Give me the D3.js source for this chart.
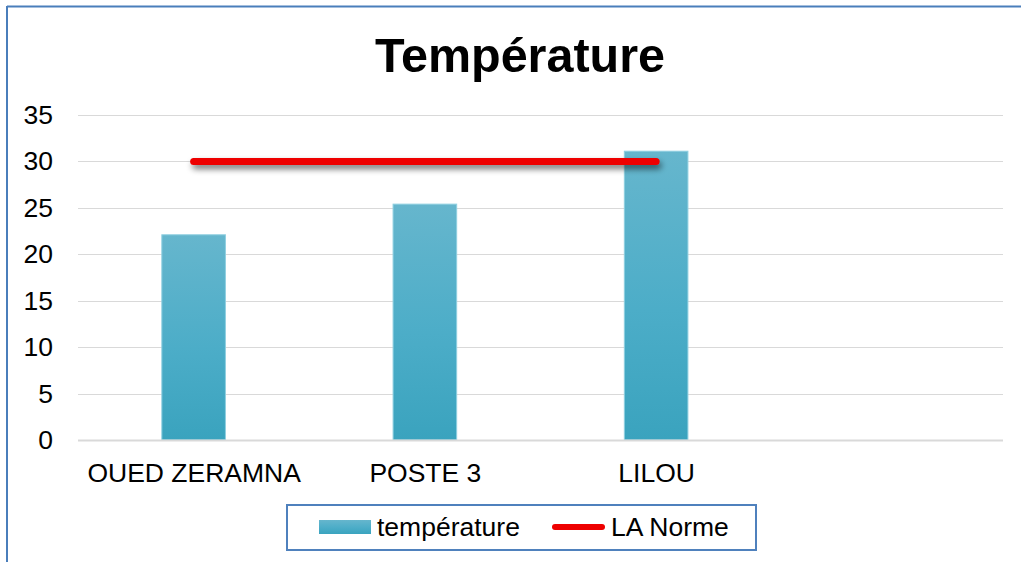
<!DOCTYPE html>
<html>
<head>
<meta charset="utf-8">
<script src="https://cdn.jsdelivr.net/npm/d3@7"></script>
<style>
  html, body { margin: 0; padding: 0; background: #fff; }
  svg { display: block; font-family: "Liberation Sans", Arial, sans-serif; }
</style>
</head>
<body>
<svg id="chart" width="1021" height="562"></svg>
<script>
// Stations and measured temperatures
const categories = ["OUED ZERAMNA", "POSTE 3", "LILOU", ""];
const temperature = [22.1, 25.4, 31.1];
// Reference limit drawn across the measured stations
const norme = [30, 30, 30];
const yTicks = [0, 5, 10, 15, 20, 25, 30, 35];
const seriesNames = ["température", "LA Norme"];

const svg = d3.select("#chart");
const W = 1021, H = 562;
const margin = { left: 78, right: 18, top: 115, bottom: 122 };
const FONT = "Liberation Sans, Arial, sans-serif";
const LABEL_SIZE = 26.5;

const x = d3.scaleBand()
  .domain(d3.range(categories.length))
  .range([margin.left, W - margin.right])
  .paddingInner(0.725)
  .paddingOuter(0.3625);
const xc = d3.scalePoint()
  .domain(d3.range(categories.length))
  .range([margin.left, W - margin.right])
  .padding(0.5);
const y = d3.scaleLinear().domain([0, 35]).range([H - margin.bottom, margin.top]);

const defs = svg.append("defs");
const grad = defs.append("linearGradient")
  .attr("id", "barGrad").attr("x1", 0).attr("y1", 0).attr("x2", 0).attr("y2", 1);
grad.append("stop").attr("offset", "0%").attr("stop-color", "#66b6cd");
grad.append("stop").attr("offset", "55%").attr("stop-color", "#4cadc8");
grad.append("stop").attr("offset", "100%").attr("stop-color", "#3aa3be");

// Soft drop shadow under the limit line (user-space region: the path is flat)
const shadow = defs.append("filter").attr("id", "lineShadow")
  .attr("filterUnits", "userSpaceOnUse")
  .attr("x", 0).attr("y", 0).attr("width", W).attr("height", H);
shadow.append("feGaussianBlur").attr("in", "SourceAlpha").attr("stdDeviation", 3).attr("result", "b");
shadow.append("feOffset").attr("in", "b").attr("dx", 2).attr("dy", 4).attr("result", "o");
shadow.append("feComponentTransfer").attr("in", "o").attr("result", "s")
  .append("feFuncA").attr("type", "linear").attr("slope", 0.55);
const merge = shadow.append("feMerge");
merge.append("feMergeNode").attr("in", "s");
merge.append("feMergeNode").attr("in", "SourceGraphic");

// Chart frame (left and top edges)
svg.append("line").attr("x1", 7).attr("x2", 7).attr("y1", 6).attr("y2", H)
  .attr("stroke", "#4a7ebb").attr("stroke-width", 2);
svg.append("line").attr("x1", 7).attr("x2", W).attr("y1", 6.5).attr("y2", 6.5)
  .attr("stroke", "#4a7ebb").attr("stroke-width", 2);

// Title
svg.append("text")
  .attr("x", 520).attr("y", 72)
  .attr("text-anchor", "middle")
  .attr("font-size", 48.5).attr("font-weight", "bold")
  .attr("font-family", FONT)
  .attr("fill", "#000")
  .text("Température");

// Gridlines
svg.append("g").selectAll("line").data(yTicks.filter(d => d > 0)).join("line")
  .attr("x1", margin.left).attr("x2", W - margin.right)
  .attr("y1", d => Math.round(y(d)) + 0.5).attr("y2", d => Math.round(y(d)) + 0.5)
  .attr("stroke", "#d9d9d9").attr("stroke-width", 1);

// Y axis labels
const yAxis = d3.axisLeft(y).tickValues(yTicks).tickSize(0).tickPadding(0);
const gy = svg.append("g").attr("transform", `translate(${margin.left - 25},0)`).call(yAxis);
gy.select(".domain").remove();
gy.attr("font-size", LABEL_SIZE).attr("font-family", FONT);
gy.selectAll("text").attr("fill", "#000");

// Bars
svg.append("g").selectAll("rect").data(temperature).join("rect")
  .attr("x", (d, i) => x(i))
  .attr("width", x.bandwidth())
  .attr("y", d => y(d))
  .attr("height", d => y(0) - y(d))
  .attr("fill", "url(#barGrad)")
  .attr("stroke", "#8fcfe0").attr("stroke-width", 1);

// Baseline
svg.append("line")
  .attr("x1", margin.left).attr("x2", W - margin.right)
  .attr("y1", y(0) + 0.5).attr("y2", y(0) + 0.5)
  .attr("stroke", "#d9d9d9").attr("stroke-width", 2);

// X axis labels
const xAxis = d3.axisBottom(xc).tickFormat(i => categories[i]).tickSize(0).tickPadding(0);
const gx = svg.append("g").attr("transform", `translate(0,${y(0) + 23})`).call(xAxis);
gx.select(".domain").remove();
gx.attr("font-size", LABEL_SIZE).attr("font-family", FONT);
gx.selectAll("text").attr("fill", "#000");

// Limit line
const line = d3.line().x((d, i) => xc(i)).y(d => y(d));
svg.append("path")
  .datum(norme)
  .attr("d", line)
  .attr("fill", "none")
  .attr("stroke", "#ee0000")
  .attr("stroke-width", 7)
  .attr("stroke-linecap", "round")
  .attr("filter", "url(#lineShadow)");

// Legend
const lg = svg.append("g").attr("font-family", FONT).attr("font-size", LABEL_SIZE);
lg.append("rect").attr("x", 287).attr("y", 505).attr("width", 469).attr("height", 45)
  .attr("fill", "#fff").attr("stroke", "#4f81bd").attr("stroke-width", 2);
lg.append("rect").attr("x", 319).attr("y", 520).attr("width", 52).attr("height", 14)
  .attr("fill", "url(#barGrad)");
lg.append("text").attr("x", 377).attr("y", 536).attr("fill", "#000")
  .text(seriesNames[0]);
lg.append("line").attr("x1", 555).attr("x2", 602).attr("y1", 527).attr("y2", 527)
  .attr("stroke", "#ee0000").attr("stroke-width", 6).attr("stroke-linecap", "round");
lg.append("text").attr("x", 611).attr("y", 536).attr("fill", "#000")
  .text(seriesNames[1]);
</script>
</body>
</html>
